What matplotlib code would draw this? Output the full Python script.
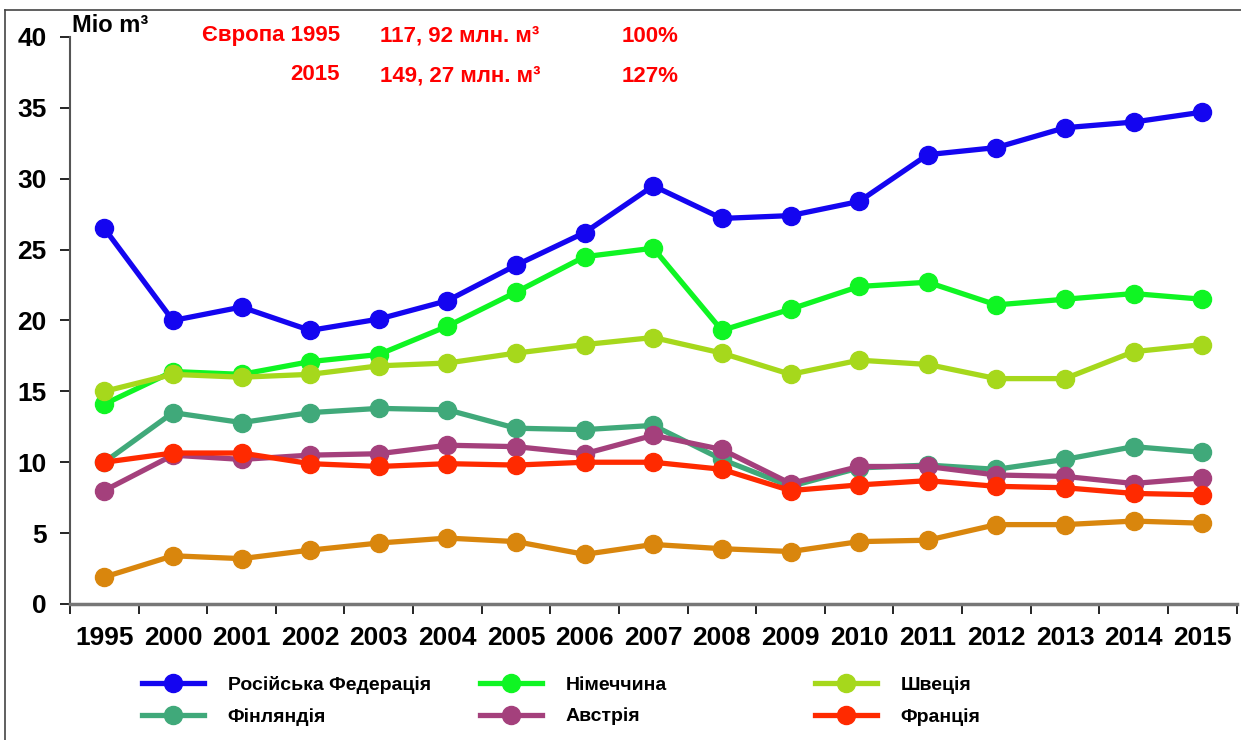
import matplotlib.pyplot as plt
import matplotlib.lines as mlines
import numpy as np

# --- дані (млн. м³) ---
years = ["1995", "2000", "2001", "2002", "2003", "2004", "2005", "2006", "2007",
         "2008", "2009", "2010", "2011", "2012", "2013", "2014", "2015"]

russia = [26.5, 20.0, 20.95, 19.3, 20.1, 21.4, 23.9, 26.2, 29.5, 27.2, 27.4, 28.4, 31.7, 32.2, 33.6, 34.0, 34.7]
germany = [14.1, 16.4, 16.2, 17.1, 17.6, 19.6, 22.0, 24.5, 25.1, 19.3, 20.8, 22.4, 22.7, 21.1, 21.5, 21.9, 21.5]
sweden = [15.0, 16.2, 16.0, 16.2, 16.8, 17.0, 17.7, 18.3, 18.8, 17.7, 16.2, 17.2, 16.9, 15.9, 15.9, 17.8, 18.3]
finland = [10.0, 13.5, 12.8, 13.5, 13.8, 13.7, 12.4, 12.3, 12.6, 10.2, 8.3, 9.6, 9.8, 9.5, 10.2, 11.1, 10.7]
austria = [8.0, 10.5, 10.2, 10.5, 10.6, 11.2, 11.1, 10.6, 11.9, 10.9, 8.5, 9.7, 9.7, 9.1, 9.0, 8.5, 8.9]
france = [10.0, 10.65, 10.65, 9.9, 9.7, 9.9, 9.8, 10.0, 10.0, 9.5, 8.0, 8.4, 8.7, 8.3, 8.2, 7.8, 7.7]
other = [1.9, 3.4, 3.2, 3.8, 4.3, 4.65, 4.4, 3.5, 4.2, 3.9, 3.7, 4.4, 4.5, 5.6, 5.6, 5.85, 5.7]

names = ["Російська Федерація", "Німеччина", "Швеція", "Фінляндія", "Австрія", "Франція"]
series = [russia, germany, sweden, finland, austria, france]
colors = ["#1405F0", "#0FF523", "#A6D81C", "#40A97A", "#A4407C", "#FF2A00"]

FONT = ['Liberation Sans Narrow', 'Liberation Sans', 'DejaVu Sans']
plt.rcParams['font.family'] = FONT
plt.rcParams['font.weight'] = 'bold'

fig = plt.figure(figsize=(12.41, 7.40), dpi=100, facecolor='white')
ax = fig.add_axes([0.0564, 0.1838, 0.9400, 0.7662])

x = np.arange(len(years))

# помаранчева лінія (без легенди) - малюємо першою
ax.plot(x, other, color="#D9860D", lw=3.8, marker='o', ms=13, zorder=2)

handles = []
for i in range(len(series)):
    h, = ax.plot(x, series[i], color=colors[i], lw=3.8, marker='o', ms=13,
                 label=names[i], zorder=3)
    handles.append(h)
# лінія Франції поверх
handles[5].set_zorder(4)

ax.set_xlim(-0.5, len(years) - 0.5)
ax.set_ylim(0, 40)
ax.set_yticks(np.arange(0, 41, 5))
ax.set_xticks(x)
ax.set_xticklabels(years)
ax.set_xticks(np.arange(-0.5, len(years), 1), minor=True)
ax.tick_params(axis='x', which='major', length=0, pad=16, labelsize=19)
ax.tick_params(axis='x', which='minor', length=7, width=1.2, color='black')
ax.tick_params(axis='y', length=7, width=1.2, labelsize=19, pad=10)
for lab in ax.get_xticklabels() + ax.get_yticklabels():
    lab.set_fontweight('bold')

for s in ['top', 'right']:
    ax.spines[s].set_visible(False)
ax.spines['left'].set_color('#555555')
ax.spines['left'].set_linewidth(1.5)
ax.spines['bottom'].set_color('#777777')
ax.spines['bottom'].set_linewidth(2.5)

# написи
ax.text(0.002, 1.0, "Mio m³", transform=ax.transAxes, fontsize=17,
        fontweight='bold', ha='left', va='bottom', color='black')
red = "#FF0000"
fs = 16
fig.text(340 / 1241, 1 - 36 / 740, "Європа 1995", color=red, fontsize=fs,
         fontweight='bold', ha='right', va='center')
fig.text(340 / 1241, 1 - 74 / 740, "2015", color=red, fontsize=fs,
         fontweight='bold', ha='right', va='center')
fig.text(380 / 1241, 1 - 36 / 740, "117, 92 млн. м³", color=red, fontsize=fs,
         fontweight='bold', ha='left', va='center')
fig.text(380 / 1241, 1 - 76 / 740, "149, 27 млн. м³", color=red, fontsize=fs,
         fontweight='bold', ha='left', va='center')
fig.text(622 / 1241, 1 - 36 / 740, "100%", color=red, fontsize=fs,
         fontweight='bold', ha='left', va='center')
fig.text(622 / 1241, 1 - 76 / 740, "127%", color=red, fontsize=fs,
         fontweight='bold', ha='left', va='center')

# легенда: три колонки окремо
col_x = [142 / 1241, 480 / 1241, 815 / 1241]
for c in range(3):
    hs = [handles[c], handles[c + 3]]
    fig.legend(hs, [names[c], names[c + 3]], loc='upper left',
               bbox_to_anchor=(col_x[c], 1 - 676 / 740), frameon=False,
               prop={'family': FONT, 'weight': 'bold', 'size': 14},
               handlelength=3.2, handletextpad=1.2, labelspacing=0.72,
               borderaxespad=0, borderpad=0)

# рамка
fig.add_artist(mlines.Line2D([5 / 1241, 5 / 1241], [0, 1 - 10 / 740],
                             color='#444444', lw=1.2))
fig.add_artist(mlines.Line2D([5 / 1241, 1], [1 - 10 / 740, 1 - 10 / 740],
                             color='#444444', lw=1.2))

fig.savefig("out.png", dpi=100, facecolor='white')
